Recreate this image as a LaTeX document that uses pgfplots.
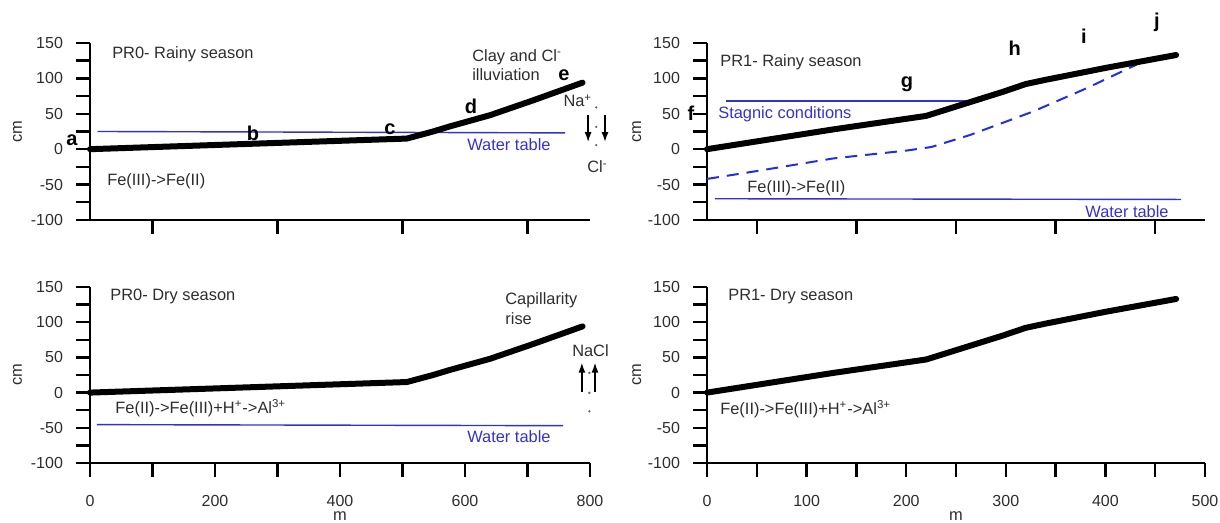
\documentclass[border=0pt]{standalone}
\usepackage{fontspec}
\setmainfont{Liberation Sans}
\usepackage{pgfplots}
\pgfplotsset{compat=1.18}
\usetikzlibrary{arrows.meta}
\definecolor{wblue}{RGB}{50,50,205}
\definecolor{dblue}{RGB}{35,45,225}
\definecolor{tgray}{RGB}{45,45,45}
\newcommand\tk{\fontsize{8}{9}\selectfont}
\newcommand\an{\fontsize{8.2}{10}\selectfont}
\newcommand\lt{\fontsize{10}{11}\selectfont\bfseries}
\pgfplotsset{
  panel/.style={
    scale only axis,
    axis x line*=bottom, axis y line*=left,
    axis line style={line width=1.2pt, black, -},
    every tick/.style={line width=1.2pt, black},
    tick align=outside,
    major tick length=7pt, minor tick length=7pt,
    ymin=-100, ymax=150,
    ytick={-100,-50,...,150},
    minor ytick={-75,-25,...,125},
    yticklabels={-100,-50,0,50,100,150},
    clip=false,
    tick label style={font=\tk, text=tgray},
    yticklabel style={xshift=-3pt},
    xticklabel style={yshift=-5.5pt},
  },
  ground/.style={line width=3pt, black, line cap=round, line join=round},
  thinblue/.style={line width=0.7pt, wblue},
  tarrow/.style={line width=0.75pt, black, -{Latex[length=5pt,width=3.5pt]}},
  dots/.style={only marks, mark=*, mark size=0.35pt, black!60},
}
\tikzset{
  ann/.style={anchor=base west, inner sep=0pt, font=\an, text=tgray},
  bann/.style={anchor=base west, inner sep=0pt, font=\an, text=wblue},
  lett/.style={anchor=base, inner sep=0pt, font=\lt},
  mlab/.style={anchor=base, inner sep=0pt, font=\an, text=tgray},
}
\begin{document}
\begin{tikzpicture}
\useasboundingbox (0,0) rectangle (610pt,261.5pt);
% ---------------- top left: PR0 rainy
\begin{axis}[panel, at={(45pt,151.5pt)}, anchor=south west,
  width=250pt, height=88.5pt, xmin=0, xmax=800,
  xtick={100,300,500,700}, xticklabels={,,,,}]
\addplot[thinblue] coordinates {(12,25) (760,23)};
\addplot[ground] coordinates {(0,0) (507,15) (549,25) (575,32) (640,48) (709,69) (788,94)};
\addplot[tarrow] coordinates {(797,48) (797,10)};
\addplot[tarrow] coordinates {(824,48) (824,10)};
\addplot[dots] coordinates {(810,59) (810,31.5) (810,5.6)};
\node[rotate=90, font=\an, text=tgray] at (axis description cs:-0.145,0.5) {cm};
\node[ann] at (axis cs:35,128) {PR0- Rainy season};
\node[ann] at (axis cs:27,-50.8) {Fe(III)->Fe(II)};
\node[bann] at (axis cs:603,-1.4) {Water table};
\node[ann] at (axis cs:611,124.3) {Clay and Cl\textsuperscript{-}};
\node[ann] at (axis cs:611,96.5) {illuviation};
\node[ann] at (axis cs:757,59.7) {Na\textsuperscript{+}};
\node[ann] at (axis cs:795,-33.3) {Cl\textsuperscript{-}};
\node[lett] at (axis cs:-28.8,5.6) {a};
\node[lett] at (axis cs:260.8,12.7) {b};
\node[lett] at (axis cs:480,21.2) {c};
\node[lett] at (axis cs:609.6,50.4) {d};
\node[lett] at (axis cs:758.4,97.5) {e};
\end{axis}
% ---------------- top right: PR1 rainy
\begin{axis}[panel, at={(353.5pt,151.5pt)}, anchor=south west,
  width=249pt, height=88.5pt, xmin=0, xmax=500,
  xtick={50,150,...,450}, xticklabels={,,,,,}]
\addplot[thinblue] coordinates {(19,68) (267,68)};
\addplot[thinblue] coordinates {(8,-70) (476,-71)};
\addplot[line width=1pt, dblue, dash pattern=on 6pt off 4pt] coordinates {(0,-42) (45,-32) (127,-13) (200,-2) (225,3) (264,20) (327,53) (381,86) (435,122)};
\addplot[ground] coordinates {(0,0) (127,28) (220,47) (297,81) (320,92) (340,98) (401,115) (471,133)};
\node[rotate=90, font=\an, text=tgray] at (axis description cs:-0.141,0.5) {cm};
\node[ann] at (axis cs:13,117.2) {PR1- Rainy season};
\node[bann] at (axis cs:11,43.3) {Stagnic conditions};
\node[ann] at (axis cs:40.2,-61.7) {Fe(III)->Fe(II)};
\node[bann] at (axis cs:379.5,-96.5) {Water table};
\node[lett] at (axis cs:-16,41) {f};
\node[lett] at (axis cs:200.8,87.1) {g};
\node[lett] at (axis cs:309,132.8) {h};
\node[lett] at (axis cs:378.5,149.3) {i};
\node[lett] at (axis cs:451.8,171.6) {j};
\end{axis}
% ---------------- bottom left: PR0 dry
\begin{axis}[panel, at={(45pt,30pt)}, anchor=south west,
  width=250pt, height=88pt, xmin=0, xmax=800,
  xtick={0,100,...,800}, xticklabels={0,,200,,400,,600,,800}]
\addplot[thinblue] coordinates {(11,-45.5) (757,-47)};
\addplot[ground] coordinates {(0,0) (507,15) (549,25) (575,32) (640,48) (709,69) (788,94)};
\addplot[tarrow] coordinates {(787,1.4) (787,42.6)};
\addplot[tarrow] coordinates {(808,1.4) (808,42.6)};
\addplot[dots] coordinates {(799,28) (799,-0.4) (799,-26.6)};
\node[rotate=90, font=\an, text=tgray] at (axis description cs:-0.145,0.5) {cm};
\node[mlab] at (axis description cs:0.5,0) [yshift=-29pt] {m};
\node[ann] at (axis cs:32,131.1) {PR0- Dry season};
\node[ann] at (axis cs:40,-29.8) {Fe(II)->Fe(III)+H\textsuperscript{+}->Al\textsuperscript{3+}};
\node[bann] at (axis cs:603,-71.5) {Water table};
\node[ann] at (axis cs:664,125) {Capillarity};
\node[ann] at (axis cs:664,96.6) {rise};
\node[ann] at (axis cs:771,51.6) {NaCl};
\end{axis}
% ---------------- bottom right: PR1 dry
\begin{axis}[panel, at={(353.5pt,30pt)}, anchor=south west,
  width=249pt, height=88pt, xmin=0, xmax=500,
  xtick={0,50,...,500}, xticklabels={0,,100,,200,,300,,400,,500}]
\addplot[ground] coordinates {(0,0) (127,28) (220,47) (297,81) (320,92) (340,98) (401,115) (471,133)};
\node[rotate=90, font=\an, text=tgray] at (axis description cs:-0.141,0.5) {cm};
\node[mlab] at (axis description cs:0.5,0) [yshift=-29pt] {m};
\node[ann] at (axis cs:21,130.7) {PR1- Dry season};
\node[ann] at (axis cs:13,-31.25) {Fe(II)->Fe(III)+H\textsuperscript{+}->Al\textsuperscript{3+}};
\end{axis}
\end{tikzpicture}
\end{document}
